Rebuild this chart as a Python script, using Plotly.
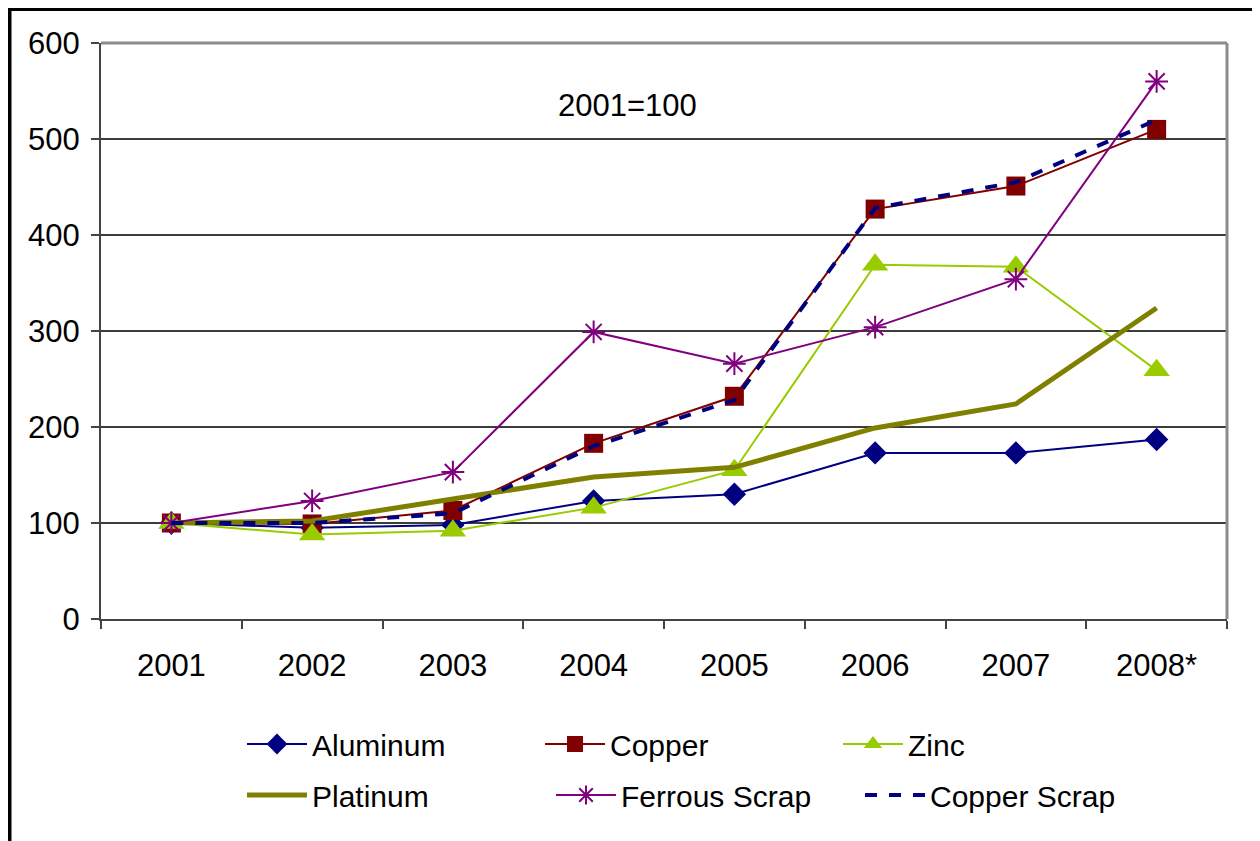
import plotly.graph_objects as go

years = ["2001", "2002", "2003", "2004", "2005", "2006", "2007", "2008*"]
aluminum = [100, 95, 98, 123, 130, 173, 173, 187]
copper = [100, 99, 113, 183, 232, 427, 451, 510]
zinc = [100, 88, 92, 116, 155, 369, 367, 259]
platinum = [100, 102, 125, 148, 158, 199, 224, 324]
ferrous_scrap = [100, 123, 153, 299, 266, 304, 354, 560]
copper_scrap = [100, 100, 110, 180, 228, 428, 455, 520]

FONT = "Liberation Sans, Arial, sans-serif"

# page body has an 8px margin; figure is sized so the chart lands in the window as in the reference
W, H = 1252, 833
L, R, T, B = 93, 33, 35, 222
PW, PH = W - L - R, H - T - B


def px_x(p):  # window pixel -> paper x
    return (p - 8 - L) / PW


def px_y(p):  # window pixel -> paper y
    return (H - B - (p - 8)) / PH


fig = go.Figure()
fig.add_trace(go.Scatter(x=years, y=aluminum, name="Aluminum", mode="lines+markers",
                         line=dict(color="#000080", width=2),
                         marker=dict(symbol="diamond", size=18, color="#000080"),
                         legend="legend"))
fig.add_trace(go.Scatter(x=years, y=copper, name="Copper", mode="lines+markers",
                         line=dict(color="#800000", width=2),
                         marker=dict(symbol="square", size=19, color="#800000"),
                         legend="legend"))
fig.add_trace(go.Scatter(x=years, y=zinc, name="Zinc", mode="lines+markers",
                         line=dict(color="#99CC00", width=2),
                         marker=dict(symbol="triangle-up", size=23, color="#99CC00"),
                         legend="legend"))
fig.add_trace(go.Scatter(x=years, y=platinum, name="Platinum", mode="lines",
                         line=dict(color="#808000", width=5),
                         legend="legend2"))
fig.add_trace(go.Scatter(x=years, y=ferrous_scrap, name="Ferrous Scrap", mode="lines+markers",
                         line=dict(color="#800080", width=2),
                         marker=dict(symbol="asterisk-open", size=19,
                                     line=dict(color="#800080", width=2)),
                         legend="legend2"))
fig.add_trace(go.Scatter(x=years, y=copper_scrap, name="Copper Scrap", mode="lines",
                         line=dict(color="#000080", width=4, dash="dash"),
                         legend="legend2"))

legend_common = dict(orientation="h", xanchor="left", yanchor="middle",
                     entrywidthmode="pixels", itemwidth=60,
                     font=dict(family=FONT, size=30, color="black"),
                     bgcolor="rgba(0,0,0,0)")

fig.update_layout(
    width=W, height=H,
    margin=dict(l=L, r=R, t=T, b=B),
    paper_bgcolor="white", plot_bgcolor="white",
    font=dict(family=FONT, size=31, color="black"),
    showlegend=True,
    legend=dict(x=px_x(242), y=px_y(744), entrywidth=223, **legend_common),
    legend2=dict(x=px_x(242), y=px_y(795), entrywidth=234, **legend_common),
    xaxis=dict(type="category", tickson="boundaries", ticks="outside", ticklen=8,
               tickcolor="#444", tickwidth=1.5, showgrid=False,
               showline=True, linecolor="#444", linewidth=2,
               tickfont=dict(family=FONT, size=31, color="black"),
               ticklabelstandoff=18, range=[-0.5, 7.5]),
    yaxis=dict(range=[0, 600], dtick=100, ticks="outside", ticklen=8,
               tickcolor="#444", tickwidth=1.5,
               showgrid=True, gridcolor="#3c3c3c", gridwidth=1.5,
               showline=True, linecolor="#444", linewidth=2,
               zeroline=False,
               tickfont=dict(family=FONT, size=31, color="black"),
               ticklabelstandoff=5),
    annotations=[dict(text="2001=100", x=px_x(627), y=px_y(86), xref="paper", yref="paper",
                      showarrow=False, font=dict(family=FONT, size=31, color="black"))],
    shapes=[
        dict(type="line", xref="paper", yref="paper", x0=0, x1=1, y0=1, y1=1,
             line=dict(color="#8c8c8c", width=3)),
        dict(type="line", xref="paper", yref="paper", x0=1, x1=1, y0=0, y1=1,
             line=dict(color="#8c8c8c", width=3)),
        dict(type="rect", xref="paper", yref="paper", x0=px_x(9.5), x1=px_x(1290),
             y0=px_y(900), y1=px_y(9), line=dict(color="black", width=4), layer="above"),
    ],
)

fig.write_html("out.html")
